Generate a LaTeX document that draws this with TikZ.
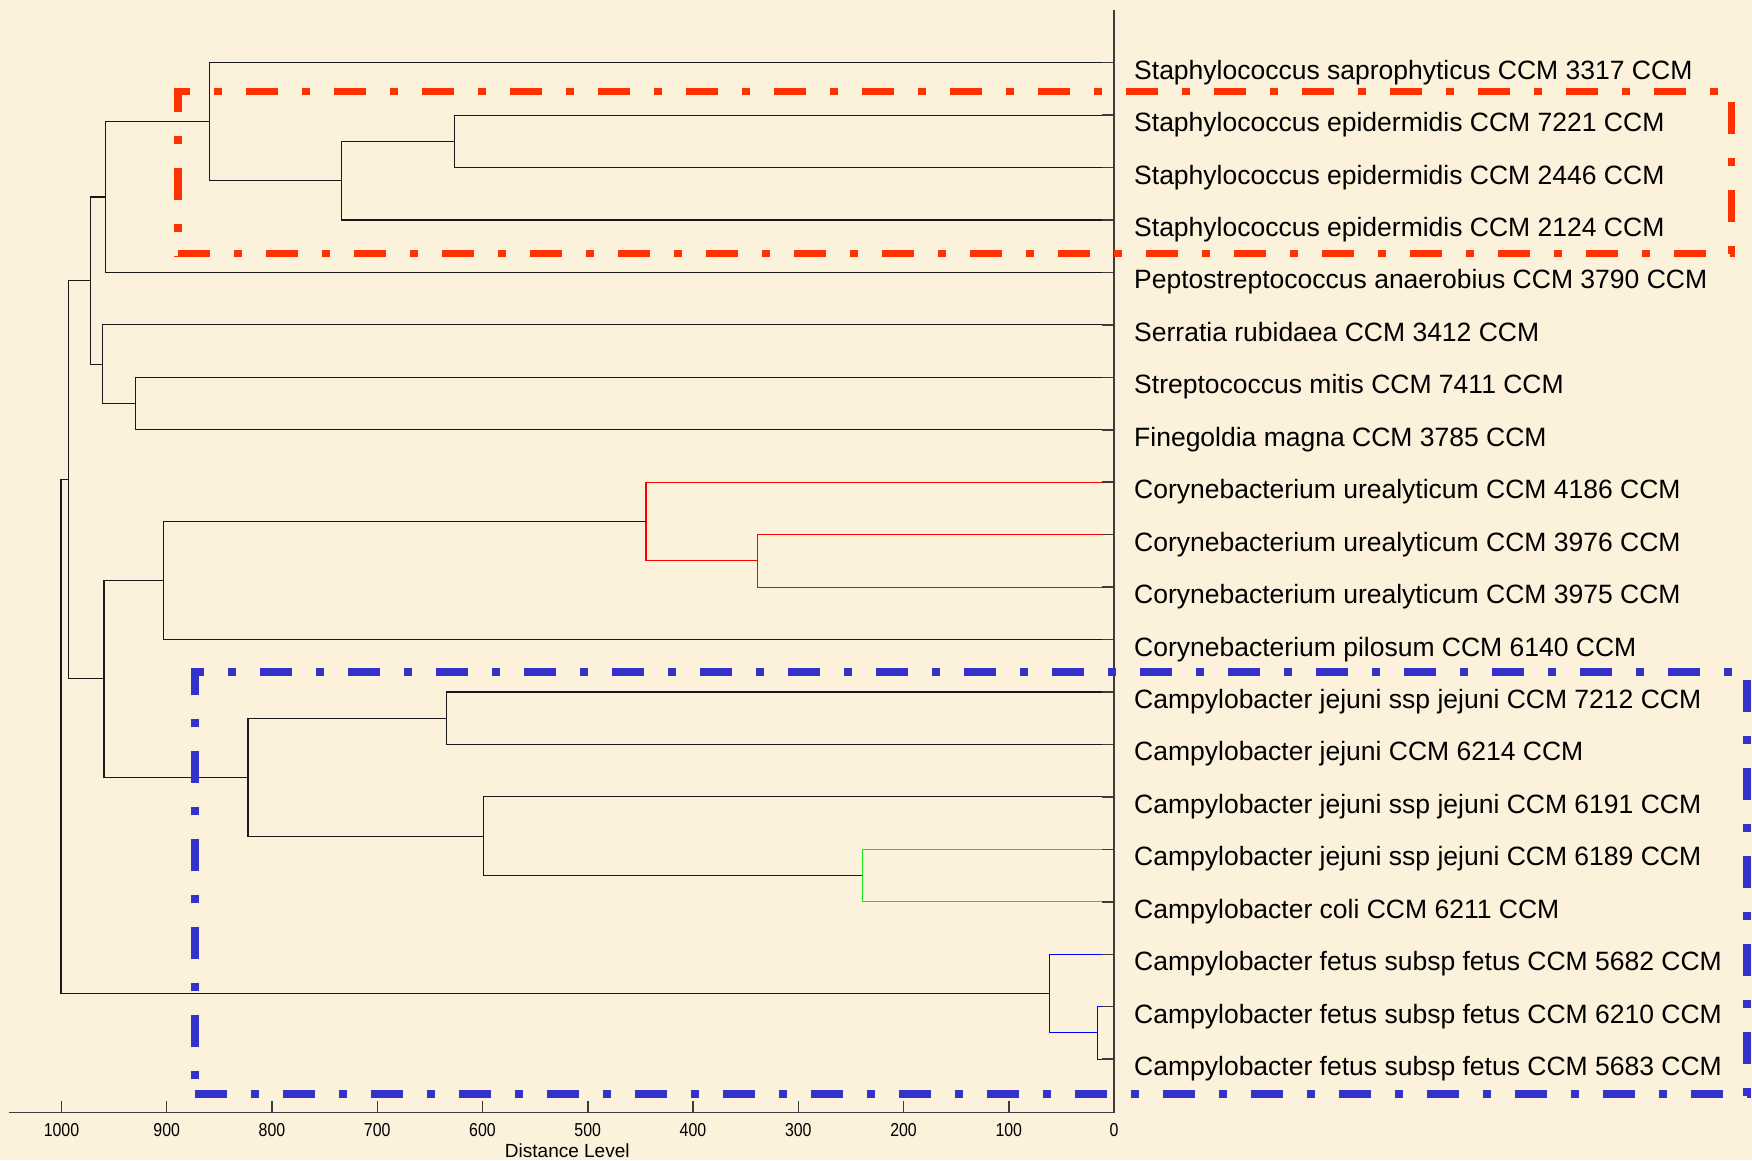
\documentclass[tikz,border=0pt]{standalone}
\usepackage{fontspec}
\setmainfont{Liberation Sans}
\definecolor{bg}{RGB}{252,241,218}
\definecolor{boxred}{RGB}{255,51,0}
\definecolor{boxblue}{RGB}{51,51,204}
\definecolor{brred}{RGB}{255,0,0}
\definecolor{brgreen}{RGB}{20,230,20}
\definecolor{brblue}{RGB}{0,0,255}
\definecolor{treeline}{RGB}{25,25,25}
\definecolor{axisline}{RGB}{60,60,60}
\begin{document}
\begin{tikzpicture}[x=1pt,y=-1pt,
  branch/.style={draw=treeline,line width=1.1pt},
  redbr/.style={draw=brred,line width=1.1pt},
  greenbr/.style={draw=brgreen,line width=1.1pt},
  bluebr/.style={draw=brblue,line width=1.1pt},
  axisln/.style={draw=axisline,line width=1.5pt},
  dashbox/.style={line width=7.5pt,line cap=butt,dash pattern=on 32pt off 24pt on 8pt off 24pt},
  lab/.style={anchor=base west,inner sep=0pt,font=\fontsize{26.5}{30}\selectfont},
  ticklab/.style={anchor=base,inner sep=0pt,font=\fontsize{18.7}{20}\selectfont},
  axlab/.style={anchor=base,inner sep=0pt,font=\fontsize{19}{21}\selectfont},
]
\fill[bg] (0,0) rectangle (1752,1160);
\useasboundingbox (0,0) rectangle (1752,1160);

% leaves and labels
\foreach \i/\t in {
 1/{Staphylococcus saprophyticus CCM 3317 CCM},
 2/{Staphylococcus epidermidis CCM 7221 CCM},
 3/{Staphylococcus epidermidis CCM 2446 CCM},
 4/{Staphylococcus epidermidis CCM 2124 CCM},
 5/{Peptostreptococcus anaerobius CCM 3790 CCM},
 6/{Serratia rubidaea CCM 3412 CCM},
 7/{Streptococcus mitis CCM 7411 CCM},
 8/{Finegoldia magna CCM 3785 CCM},
 9/{Corynebacterium urealyticum CCM 4186 CCM},
 10/{Corynebacterium urealyticum CCM 3976 CCM},
 11/{Corynebacterium urealyticum CCM 3975 CCM},
 12/{Corynebacterium pilosum CCM 6140 CCM},
 13/{Campylobacter jejuni ssp jejuni CCM 7212 CCM},
 14/{Campylobacter jejuni CCM 6214 CCM},
 15/{Campylobacter jejuni ssp jejuni CCM 6191 CCM},
 16/{Campylobacter jejuni ssp jejuni CCM 6189 CCM},
 17/{Campylobacter coli CCM 6211 CCM},
 18/{Campylobacter fetus subsp fetus CCM 5682 CCM},
 19/{Campylobacter fetus subsp fetus CCM 6210 CCM},
 20/{Campylobacter fetus subsp fetus CCM 5683 CCM}}{
  \coordinate (L\i) at (1114,{62.6+52.45*(\i-1)});
  \node[lab] (T\i) at (1134,{62.6+52.45*(\i-1)+16.5}) {\t};
}

% internal nodes
\coordinate (n23)   at (454.3,141.3);
\coordinate (n234)  at (341.4,180.6);
\coordinate (n1234) at (209.3,121.6);
\coordinate (n12345) at (105.6,197.0);
\coordinate (n78)   at (135.2,403.5);
\coordinate (n678)  at (102.6,364.2);
\coordinate (nA)    at (90.7,280.6);
\coordinate (n1011) at (757.3,560.9);
\coordinate (n911)  at (646.0,521.5);
\coordinate (n912)  at (163.2,580.5);
\coordinate (n1314) at (446.9,718.2);
\coordinate (n1617) at (862.3,875.6);
\coordinate (n1517) at (483.8,836.25);
\coordinate (n1317) at (248.0,777.2);
\coordinate (nB)    at (104.0,678.9);
\coordinate (nC)    at (68.7,479.75);
\coordinate (n1920) at (1097.3,1032.9);
\coordinate (n1820) at (1049.3,993.6);
\coordinate (root)  at (61.0,736.7);

\newcommand{\join}[4]{\draw[#1] (#3) -- (#3 -| #2) -- (#4 -| #2) -- (#4);}
\join{branch}{n23}{L2}{L3}
\join{branch}{n234}{n23}{L4}
\join{branch}{n1234}{L1}{n234}
\join{branch}{n12345}{n1234}{L5}
\join{branch}{n78}{L7}{L8}
\join{branch}{n678}{L6}{n78}
\join{branch}{nA}{n12345}{n678}
\join{redbr}{n1011}{L10}{L11}
\join{redbr}{n911}{L9}{n1011}
\join{branch}{n912}{n911}{L12}
\join{branch}{n1314}{L13}{L14}
\join{greenbr}{n1617}{L16}{L17}
\join{branch}{n1517}{L15}{n1617}
\join{branch}{n1317}{n1314}{n1517}
\join{branch}{nB}{n912}{n1317}
\join{branch}{nC}{nA}{nB}
\join{bluebr}{n1920}{L19}{L20}
\join{bluebr}{n1820}{L18}{n1920}
\join{branch}{root}{nC}{n1820}

% axes
\coordinate (axL) at (9,1112.5);
\coordinate (axR) at (1114,1112.5);
\coordinate (axT) at (1114,10);
\draw[axisln] (axL) -- (axR);
\draw[axisln] (axT) -- (axR);
\foreach \i in {1,...,20}{\draw[axisln] (L\i) -- ++(-12,0);}
\foreach \d in {0,100,...,1000}{
  \coordinate (tk\d) at ({1114-1.0525*\d},1112.5);
  \draw[axisln] (tk\d) -- ++(0,-12);
  \node[ticklab] (tl\d) at ({1114-1.0525*\d},1136.7) {\scalebox{0.85}[1]{\d}};
}
\node[axlab] (xlabel) at (567.3,1157.3) {Distance Level};

% red dash-dot box
\coordinate (rA) at (178,91.3);
\coordinate (rB) at (1731.3,91.3);
\coordinate (rC) at (1731.3,253.7);
\coordinate (rD) at (178,253.7);
\draw[boxred,dashbox,dash phase=16.25pt] ([xshift=-3.75pt]rA) -- ([xshift=3.75pt]rB);
\draw[boxred,dashbox,dash phase=7.55pt] ([yshift=3.75pt]rA) -- ([yshift=-3.75pt]rD);
\draw[boxred,dashbox,dash phase=0pt] (rD) -- ([xshift=3.75pt]rC);
\draw[boxred,dashbox,dash phase=73.55pt] ([yshift=3.75pt]rB) -- ([yshift=-3.75pt]rC);

% blue dash-dot box
\coordinate (bA) at (195,672);
\coordinate (bB) at (1747,672);
\coordinate (bC) at (1747,1094);
\coordinate (bD) at (195,1094);
\draw[boxblue,dashbox,dash phase=19.55pt] ([xshift=-3.75pt]bA) -- ([xshift=3.75pt]bB);
\draw[boxblue,dashbox,dash phase=5.25pt] ([yshift=3.75pt]bA) -- ([yshift=-3.75pt]bD);
\draw[boxblue,dashbox,dash phase=0pt] (bD) -- ([xshift=3.75pt]bC);
\draw[boxblue,dashbox,dash phase=80pt] (bB) -- ([yshift=-3.75pt]bC);
\end{tikzpicture}
\end{document}
